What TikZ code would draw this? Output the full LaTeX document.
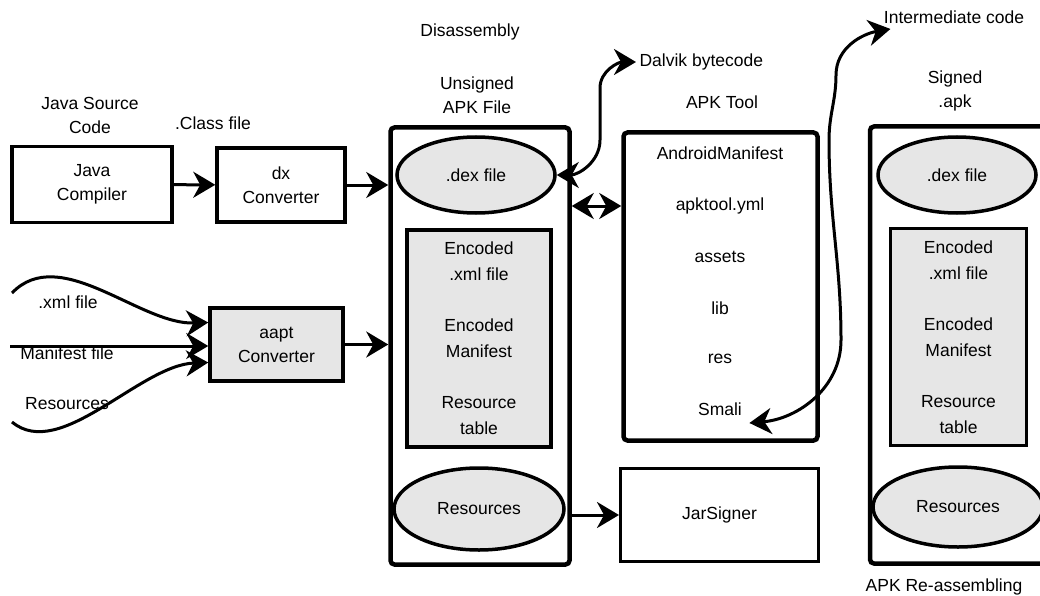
\documentclass[tikz,border=0pt]{standalone}
\usepackage{fontspec}
\setmainfont{Liberation Sans}
\usetikzlibrary{arrows.meta,shapes.geometric}
\definecolor{boxgray}{HTML}{E6E6E6}

\begin{document}
\begin{tikzpicture}[x=1pt,y=-1pt,
  every node/.style={font=\fontsize{17.5}{24}\selectfont, align=center},
  plainbox/.style={draw, line width=3.5pt},
  frame/.style={draw, line width=4.5pt, rounded corners=4pt},
  oval/.style={ellipse, draw, fill=boxgray, line width=3.5pt, inner sep=0pt},
  encbox/.style={draw, fill=boxgray, line width=3.5pt, font=\fontsize{17.5}{26}\selectfont},
  conn/.style={line width=3pt, -{Stealth[length=22pt,width=26pt,inset=7pt]}},
  conn2/.style={line width=3pt, {Stealth[length=22pt,width=26pt,inset=7pt]}-{Stealth[length=22pt,width=26pt,inset=7pt]}}]
  \useasboundingbox (0,0) rectangle (1040,596);
  \clip (0,0) rectangle (1040,596);

  % compile side
  \node at (90,115) {Java Source\\Code};
  \node [plainbox, minimum width=160pt, minimum height=76pt] (javacomp) at (92,184.5) {Java\\Compiler};
  \node at (213,123) {.Class file};
  \node [plainbox, minimum width=128pt, minimum height=74pt] (dxconv) at (281,185) {dx\\Converter};
  \node [plainbox, fill=boxgray, minimum width=133pt, minimum height=73pt] (aapt) at (276.5,344.5) {aapt\\Converter};

  \coordinate (xmlin) at (12,293);
  \coordinate (manin) at (10,346);
  \coordinate (resin) at (12,422);
  \node at (68,302) {.xml file};
  \node at (67,353) {Manifest file};
  \node at (67,404) {Resources};

  % unsigned apk
  \node at (470,32) {Disassembly};
  \node at (477,95) {Unsigned\\APK File};
  \node [frame, minimum width=179pt, minimum height=437pt] (apk) at (480,346) {};
  \node [oval, minimum width=158pt, minimum height=76pt] (dexA) at (476,175) {.dex file};
  \node [encbox, minimum width=144pt, minimum height=217pt] (encA) at (479,338.5)
    {Encoded\\ .xml file\\[25pt]Encoded\\Manifest\\[25pt]Resource\\table};
  \node [oval, minimum width=170pt, minimum height=82pt] (resA) at (479,509) {Resources};

  % apk tool
  \node [anchor=west] (dalvik) at (636,62) {Dalvik bytecode};
  \node at (722,102) {APK Tool};
  \node [frame, minimum width=194pt, minimum height=308pt] (apktool) at (720.5,286.5) {};
  \node (amf) at (720,153) {AndroidManifest};
  \node (apkyml) at (720,206) {apktool.yml};
  \node (assets) at (720,257) {assets};
  \node (lib) at (720,308) {lib};
  \node (res) at (720,359) {res};
  \node (smali) at (720,409) {Smali};
  \node [draw, line width=3pt, minimum width=198pt, minimum height=93pt] (jar) at (719.5,515) {JarSigner};

  % signed apk
  \node (inter) at (954,17) {Intermediate code};
  \node at (955,91) {Signed\\.apk};
  \node [frame, minimum width=192pt, minimum height=437pt] (signed) at (966,345) {};
  \node [oval, minimum width=158pt, minimum height=76pt] (dexB) at (957,175) {.dex file};
  \node [encbox, minimum width=136pt, minimum height=217pt] (encB) at (958.5,337)
    {Encoded\\ .xml file\\[25pt]Encoded\\Manifest\\[25pt]Resource\\table};
  \node [oval, minimum width=170pt, minimum height=80pt] (resB) at (958,507) {Resources};
  \node at (944,587) {APK Re-assembling};

  % connectors
  \draw [conn] (javacomp) -- (dxconv);
  \draw [conn] (dxconv.east) -- (dxconv.east -| apk.west);
  \draw [conn] (aapt.east) -- (aapt.east -| apk.west);
  \draw [conn] (xmlin) .. controls (60,243) and (140,325) .. ([yshift=22pt]aapt.west);
  \draw [conn] (manin) -- (manin -| aapt.west);
  \draw [conn] (resin) .. controls (60,462) and (140,365) .. ([yshift=-18pt]aapt.west);
  \draw [conn2] (apk.east |- apkyml) -- (apktool.west |- apkyml);
  \draw [conn] (apk.east |- jar.west) -- (jar.west);
  \draw [conn2] (dexA.east) to[out=0,in=270] (600,140) -- (600,88) to[out=90,in=180] (dalvik.west);
  \draw [conn2] ([xshift=4pt,yshift=-14pt]smali.east) to[out=5,in=270] (841,340)
    to[out=90,in=270] (829,140) to[out=90,in=270] (836,75) to[out=90,in=190] ([xshift=10pt,yshift=-2pt]inter.south west);
\end{tikzpicture}
\end{document}
